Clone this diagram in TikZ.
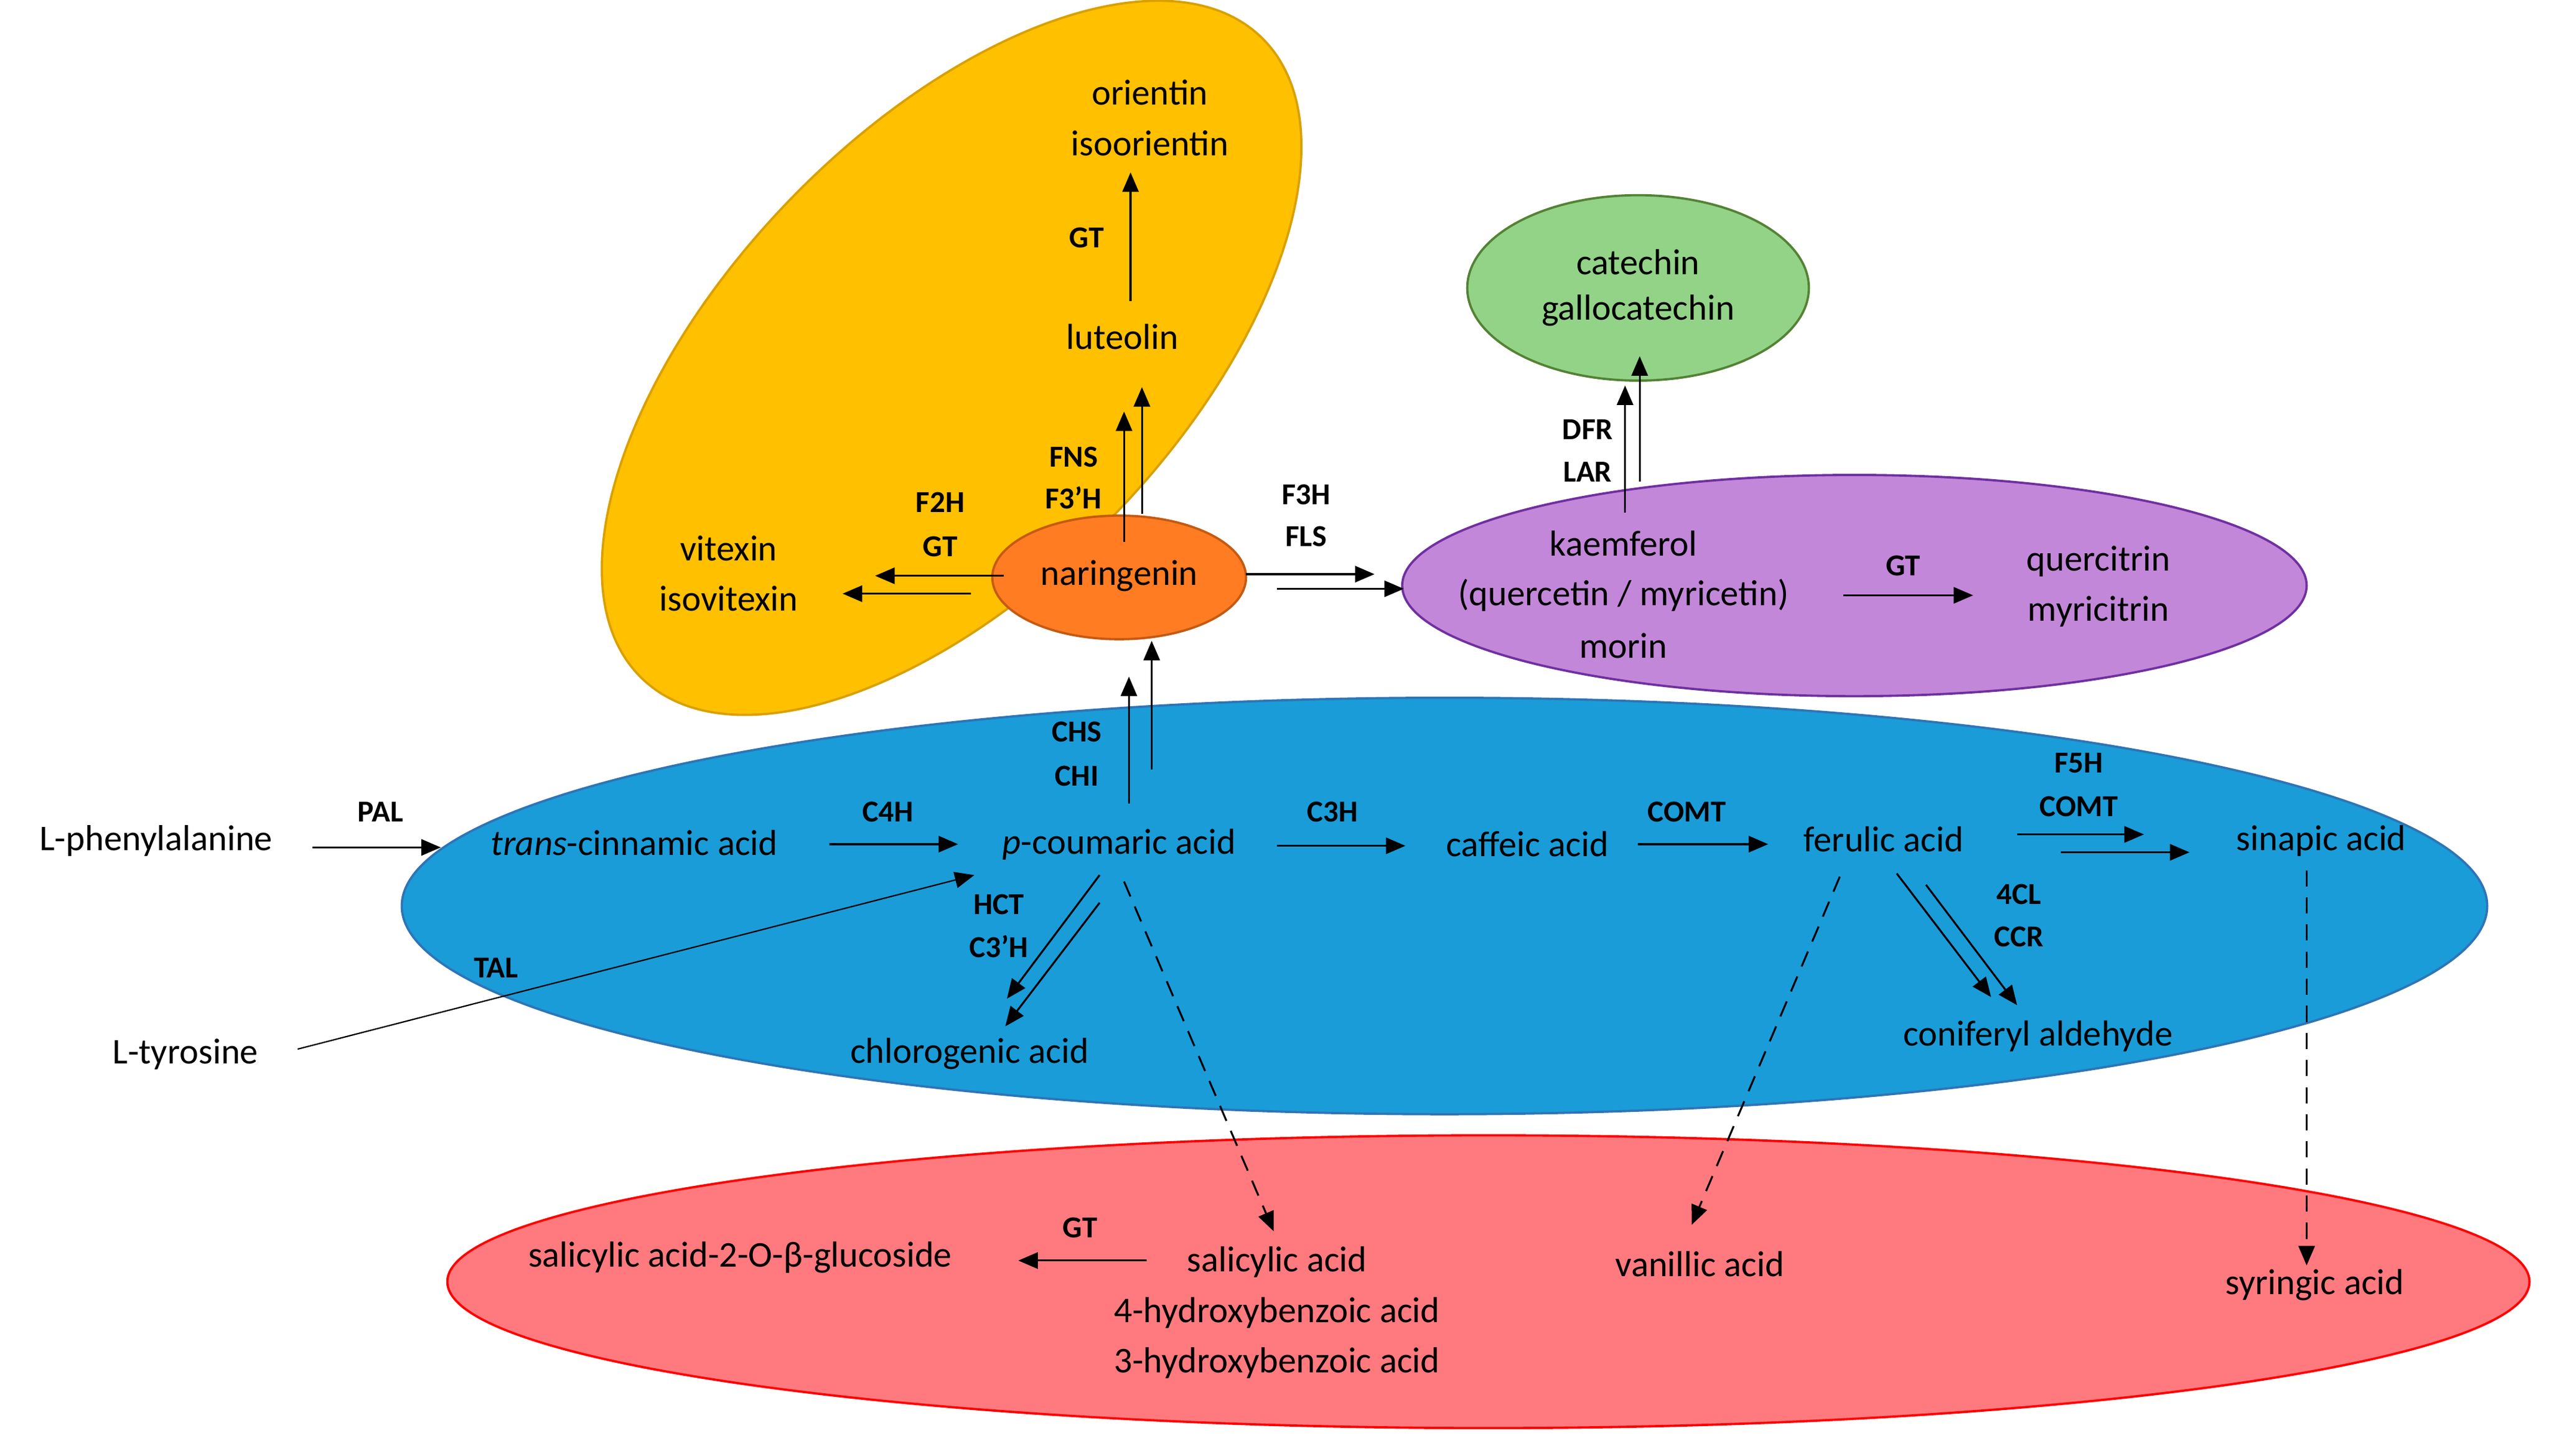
\documentclass[tikz,border=0pt]{standalone}
\usepackage{fontspec}
\setmainfont{Carlito}
\usetikzlibrary{arrows.meta}
\begin{document}
\begin{tikzpicture}[x=0.03cm,y=-0.03cm,
  t/.style={font=\fontsize{19}{22}\selectfont,inner sep=0},
  e/.style={font=\fontsize{16}{19}\selectfont\bfseries,inner sep=0},
  a/.style={line width=1pt,-{Triangle[length=0.36cm,width=0.3cm]}},
  d/.style={a,dash pattern=on 0.3cm off 0.2cm}]
\useasboundingbox (0,0) rectangle (1567,895);
% ellipses
\draw[line width=1.2pt,draw=red,fill={rgb,255:red,255;green,122;blue,126}] (915,788) ellipse [x radius=640,y radius=90];
\draw[line width=1.2pt,draw={rgb,255:red,46;green,117;blue,182},fill={rgb,255:red,26;green,156;blue,216}] (888,557) ellipse [x radius=641,y radius=128];
\draw[line width=1.2pt,draw={rgb,255:red,112;green,48;blue,160},fill={rgb,255:red,195;green,135;blue,217}] (1140,360) ellipse [x radius=278,y radius=68];
\draw[line width=1.2pt,draw={rgb,255:red,84;green,130;blue,53},fill={rgb,255:red,146;green,211;blue,135}] (1007,177) ellipse [x radius=105,y radius=57];
\draw[line width=1.2pt,draw={rgb,255:red,217;green,160;blue,0},fill={rgb,255:red,255;green,192;blue,0},shift={(585,220)},rotate=46] (0,0) ellipse [x radius=274,y radius=139];
\draw[line width=1.2pt,draw={rgb,255:red,197;green,90;blue,17},fill={rgb,255:red,255;green,124;blue,34}] (688,355) ellipse [x radius=78,y radius=38];
% texts
\node[t] (ori) at (707,57) {orientin};
\node[t] (isoori) at (707,88) {isoorientin};
\node[t] (lut) at (690,207) {luteolin};
\node[t] (vit) at (448,337) {vitexin};
\node[t] (isovit) at (448,368) {isovitexin};
\node[t] (nar) at (688,354) {naringenin};
\node[t] (cat) at (1007,161) {catechin};
\node[t] (gcat) at (1007,191) {gallocatechin};
\node[t] (kae) at (998,334) {kaemferol};
\node[t] (que) at (998,366) {(quercetin / myricetin)};
\node[t] (mor) at (998,397) {morin};
\node[t] (qct) at (1290,345) {quercitrin};
\node[t] (myr) at (1290,376) {myricitrin};
\node[t] (phe) at (96,517) {L-phenylalanine};
\node[t] (cin) at (390,518) {\textit{trans}-cinnamic acid};
\node[t] (cou) at (688,519) {\textit{p}-coumaric acid};
\node[t] (caf) at (939,519) {caffeic acid};
\node[t] (fer) at (1158,516) {ferulic acid};
\node[t] (sin) at (1427,517) {sinapic acid};
\node[t] (chl) at (596,648) {chlorogenic acid};
\node[t] (con) at (1253,637) {coniferyl aldehyde};
\node[t] (tyr) at (114,648) {L-tyrosine};
\node[t] (sag) at (455,773) {salicylic acid-2-O-β-glucoside};
\node[t] (sal) at (785,776) {salicylic acid};
\node[t] (hb4) at (785,807) {4-hydroxybenzoic acid};
\node[t] (hb3) at (785,838) {3-hydroxybenzoic acid};
\node[t] (van) at (1045,777) {vanillic acid};
\node[t] (syr) at (1423,790) {syringic acid};
% enzyme labels
\node[e] (l1) at (668,146) {GT};
\node[e] (l2) at (578,309) {F2H};
\node[e] (l3) at (578,336) {GT};
\node[e] (l4) at (660,281) {FNS};
\node[e] (l5) at (660,306) {F3’H};
\node[e] (l6) at (803,304) {F3H};
\node[e] (l7) at (803,330) {FLS};
\node[e] (l8) at (976,264) {DFR};
\node[e] (l9) at (976,290) {LAR};
\node[e] (l10) at (1170,348) {GT};
\node[e] (l11) at (662,450) {CHS};
\node[e] (l12) at (662,477) {CHI};
\node[e] (l13) at (234,499) {PAL};
\node[e] (l14) at (546,499) {C4H};
\node[e] (l15) at (819,499) {C3H};
\node[e] (l16) at (1037,499) {COMT};
\node[e] (l17) at (1278,469) {F5H};
\node[e] (l18) at (1278,496) {COMT};
\node[e] (l19) at (1241,550) {4CL};
\node[e] (l20) at (1241,576) {CCR};
\node[e] (l21) at (614,556) {HCT};
\node[e] (l22) at (614,582) {C3’H};
\node[e] (l23) at (305,595) {TAL};
\node[e] (l24) at (664,755) {GT};
% connector end points
\coordinate (a1) at (695,185); \coordinate (a2) at (695,106);
\coordinate (b1) at (691,333); \coordinate (b2) at (691,253);
\coordinate (b3) at (702,316); \coordinate (b4) at (702,238);
\coordinate (c1) at (617,354); \coordinate (c2) at (538,354);
\coordinate (c3) at (597,365); \coordinate (c4) at (518,365);
\coordinate (f1) at (766,353); \coordinate (f2) at (845,353);
\coordinate (f3) at (785,362); \coordinate (f4) at (863,362);
\coordinate (g1) at (999,315); \coordinate (g2) at (999,237);
\coordinate (g3) at (1008,296); \coordinate (g4) at (1008,219);
\coordinate (h1) at (1133,366); \coordinate (h2) at (1213,366);
\coordinate (i1) at (694,494); \coordinate (i2) at (694,416);
\coordinate (i3) at (708,473); \coordinate (i4) at (708,394);
\coordinate (j1) at (192,521); \coordinate (j2) at (271,521);
\coordinate (k1) at (510,519); \coordinate (k2) at (589,519);
\coordinate (m1) at (785,520); \coordinate (m2) at (864,520);
\coordinate (n1) at (1007,519); \coordinate (n2) at (1087,519);
\coordinate (o1) at (1240,513); \coordinate (o2) at (1318,513);
\coordinate (o3) at (1267,524); \coordinate (o4) at (1346,524);
\coordinate (p1) at (1166,537); \coordinate (p2) at (1224,613);
\coordinate (p3) at (1184,544); \coordinate (p4) at (1240,618);
\coordinate (q1) at (676,538); \coordinate (q2) at (619,614);
\coordinate (q3) at (676,555); \coordinate (q4) at (618,631);
\coordinate (r1) at (183,645); \coordinate (r2) at (599,538);
\coordinate (s1) at (691,542); \coordinate (s2) at (783,757);
\coordinate (s3) at (1131,539); \coordinate (s4) at (1040,753);
\coordinate (s5) at (1418,535); \coordinate (s6) at (1418,778);
\coordinate (u1) at (705,775); \coordinate (u2) at (626,775);
% arrows
\foreach \u/\v in {a1/a2,b1/b2,b3/b4,c1/c2,c3/c4,f1/f2,f3/f4,g1/g2,g3/g4,h1/h2,i1/i2,i3/i4,j1/j2,k1/k2,m1/m2,n1/n2,o1/o2,o3/o4,p1/p2,p3/p4,q1/q2,q3/q4,u1/u2}
  \draw[a] (\u) -- (\v);
\draw[a,line width=0.7pt] (r1) -- (r2);
\draw[d] (s1) -- (s2);
\draw[d] (s3) -- (s4);
\draw[d] (s5) -- (s6);
\end{tikzpicture}
\end{document}
